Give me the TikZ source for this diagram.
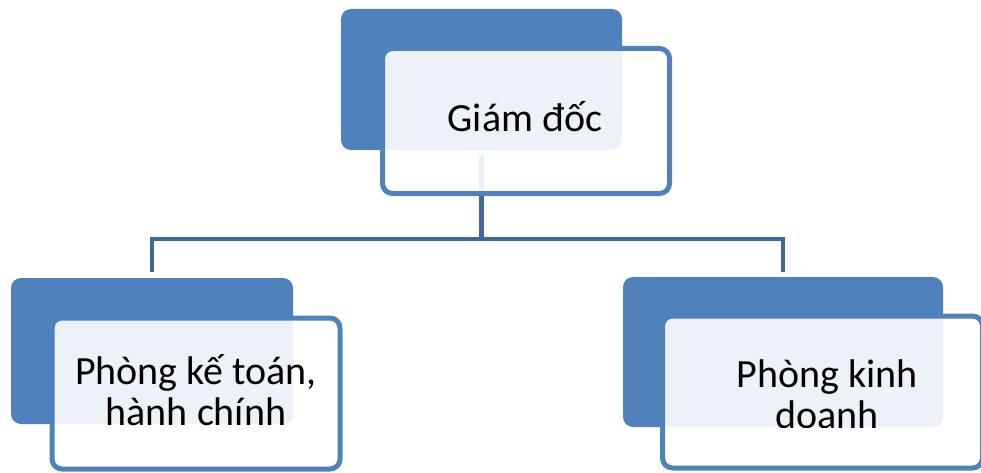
\documentclass[tikz,border=0pt]{standalone}
\usepackage{fontspec}
\setmainfont{Carlito}
\usetikzlibrary{calc}
\definecolor{accent}{HTML}{4F81BD}
\definecolor{linkblue}{HTML}{41689B}
\tikzset{
  back/.style={fill=accent, draw=none, rounded corners=10pt},
  front/.style={fill=white, fill opacity=0.9, draw=accent, draw opacity=1, line width=5pt, rounded corners=10pt},
  conn/.style={draw=linkblue, line width=4.5pt},
  lbl/.style={font=\fontsize{40}{41}\selectfont, text=black, inner sep=0pt, align=center},
}
\begin{document}
\begin{tikzpicture}[x=1pt, y=-1pt]
\useasboundingbox (0,0) rectangle (981,473);

% background tiles
\node[back, minimum width=281pt, minimum height=141pt] (d0) at (481.5,79.5) {};
\node[back, minimum width=282pt, minimum height=146pt] (d1) at (152,351) {};
\node[back, minimum width=320pt, minimum height=150pt] (d2) at (783,352) {};

% connectors from the top tile to the two lower tiles
\coordinate (bus) at (481.5,239);
\draw[conn] ($(d0.south)+(0,5)$) -- (d0.south |- bus) -| ($(d1.north)+(0,-6)$);
\draw[conn] (d0.south |- bus) -| ($(d2.north)+(0,-5)$);

% translucent front cards
\node[front, minimum width=287pt, minimum height=145pt] (f0) at (526,121) {};
\node[front, minimum width=288pt, minimum height=151pt] (f1) at (196,393.5) {};
\node[front, minimum width=320pt, minimum height=152pt] (f2) at (822.5,392) {};

% labels (base anchor sits on the last line)
\node[lbl, anchor=base] (t0) at (525,132) {Giám đốc};
\node[lbl, anchor=base] (t1) at (196,425) {Phòng kế toán,\\hành chính};
\begin{scope}
  \clip (d2.north west) rectangle (d2.south east);
  \node[lbl, anchor=base] (t2) at (827,428) {Phòng kinh\\doanh};
\end{scope}
\end{tikzpicture}
\end{document}
